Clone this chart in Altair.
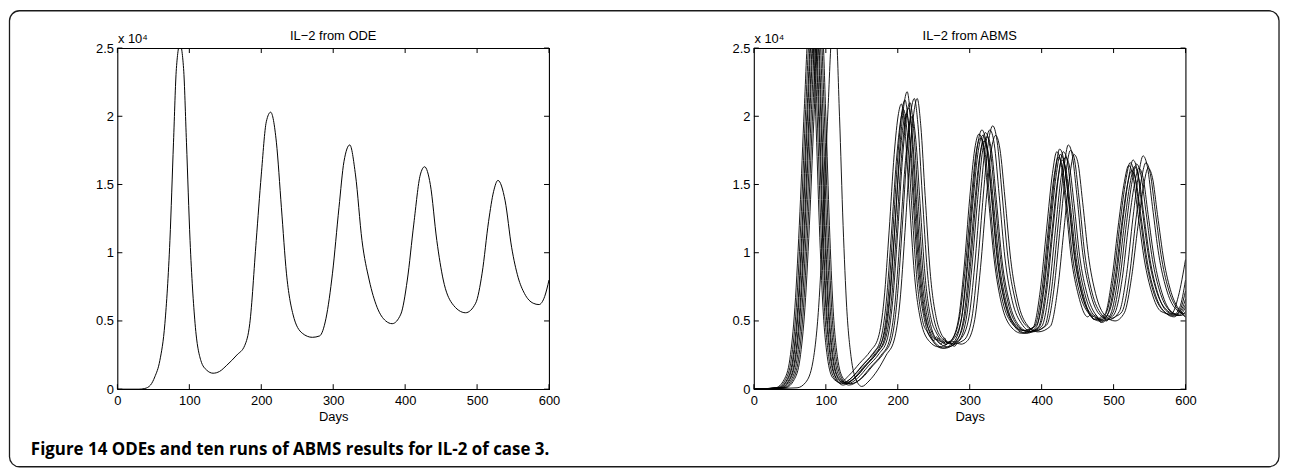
import altair as alt
import pandas as pd

# ---------------- data (IL-2, units of 1e4) ----------------
ode_day = [0, 30, 38, 46, 52, 59, 66, 73, 78, 82, 87, 92, 96, 101, 108, 116, 124, 133, 142,
           152, 166, 177, 184, 193, 200, 207, 213, 221, 228, 235, 244, 257, 271, 281, 290,
           299, 308, 315, 323, 331, 340, 350, 361, 373, 382, 394, 403, 412, 421, 427, 435,
           444, 453, 465, 484, 498, 507, 516, 523, 529, 539, 548, 557, 566, 578, 586, 594, 600]
ode_il2 = [0, 0, 0.005, 0.03, 0.09, 0.21, 0.48, 1.09, 1.81, 2.35, 2.53, 2.35, 1.81, 1.09, 0.48,
           0.21, 0.14, 0.117, 0.13, 0.175, 0.25, 0.32, 0.48, 1.09, 1.57, 1.96, 2.03, 1.81, 1.33,
           0.85, 0.55, 0.41, 0.38, 0.39, 0.52, 0.85, 1.33, 1.67, 1.79, 1.57, 1.09, 0.80, 0.60,
           0.50, 0.48, 0.55, 0.80, 1.21, 1.57, 1.63, 1.50, 1.09, 0.80, 0.63, 0.56, 0.63, 0.85,
           1.23, 1.45, 1.53, 1.38, 1.04, 0.82, 0.70, 0.63, 0.62, 0.68, 0.80]

abms_run01 = [[0,0],[30,0.01],[42,0.07],[50,0.22],[57,0.6],[64,1.3],[70,2.05],[76,2.62],[81,2.62],[86,2.0],[91,1.2],[96,0.6],[102,0.24],[110,0.08],[120,0.05],
              [132,0.1],[147,0.19],[162,0.28],[173,0.38],[181,0.66],[188,1.16],[195,1.72],[201,2.02],[205,2.09],[210,1.9],[216,1.4],[223,0.85],[232,0.5],[244,0.35],[257,0.31],
              [273,0.35],[284,0.5],[292,0.88],[300,1.4],[307,1.76],[313,1.87],[319,1.77],[326,1.4],[334,0.95],[344,0.63],[357,0.46],[372,0.41],
              [388,0.45],[398,0.72],[407,1.18],[415,1.58],[421,1.74],[426,1.68],[433,1.38],[441,0.97],[451,0.69],[464,0.53],[468,0.545],[472,0.515],[478,0.51],[482,0.53],
              [488,0.55],[498,0.82],[507,1.22],[515,1.52],[521,1.64],[527,1.56],[534,1.28],[543,0.94],[553,0.71],[566,0.57],[580,0.55],[590,0.68],[600,0.95]]
abms_run02 = [[0,0],[32,0.01],[44,0.07],[52,0.22],[59,0.6],[66,1.3],[72,2.05],[78,2.62],[83,2.62],[88,2.0],[93,1.2],[98,0.6],[104,0.24],[112,0.08],[122,0.04],
              [135,0.08],[150,0.17],[165,0.26],[176,0.36],[184,0.64],[191,1.13],[198,1.67],[204,1.97],[208,2.05],[213,1.88],[219,1.38],[226,0.84],[235,0.49],
              [241,0.42],[247,0.37],[250,0.355],[253,0.37],[256,0.345],[260,0.33],[263,0.345],[266,0.325],[270,0.34],
              [275,0.36],[286,0.53],[294,0.9],[302,1.38],[309,1.74],[315,1.84],[321,1.75],[328,1.38],[336,0.94],[346,0.64],[359,0.48],[374,0.43],
              [390,0.46],[400,0.71],[409,1.16],[417,1.55],[423,1.7],[428,1.65],[435,1.36],[443,0.97],[453,0.7],[466,0.55],[480,0.5],
              [490,0.56],[500,0.82],[509,1.22],[517,1.53],[523,1.66],[529,1.58],[536,1.3],[545,0.95],[555,0.72],[568,0.58],[582,0.54],[592,0.6],[600,0.8]]
abms_run03 = [[0,0],[34,0.01],[46,0.07],[54,0.22],[61,0.6],[68,1.3],[74,2.05],[80,2.62],[85,2.62],[90,2.0],[95,1.2],[100,0.6],[106,0.24],[114,0.08],[124,0.03],
              [137,0.07],[152,0.16],[167,0.25],[178,0.35],[186,0.63],[193,1.14],[200,1.7],[206,2.04],[210,2.12],[215,1.93],[221,1.42],[228,0.86],[237,0.51],[249,0.35],[262,0.3],
              [277,0.34],[288,0.5],[296,0.9],[304,1.42],[311,1.79],[317,1.9],[323,1.8],[330,1.42],[338,0.96],[348,0.65],[361,0.47],[376,0.41],
              [392,0.45],[402,0.72],[411,1.19],[419,1.59],[425,1.76],[430,1.7],[437,1.4],[445,0.99],[455,0.71],[468,0.54],[473,0.51],[477,0.525],[482,0.49],[487,0.51],
              [492,0.55],[502,0.81],[511,1.2],[519,1.49],[525,1.6],[531,1.53],[538,1.27],[547,0.93],[557,0.71],[570,0.57],[584,0.53],[594,0.6],[600,0.72]]
abms_run04 = [[0,0],[35,0.01],[47,0.07],[55,0.22],[62,0.6],[69,1.3],[75,2.05],[81,2.62],[86,2.62],[91,2.0],[96,1.2],[101,0.6],[107,0.24],[115,0.08],[125,0.05],
              [139,0.1],[154,0.19],[169,0.28],[180,0.38],[188,0.65],[195,1.12],[202,1.65],[208,1.95],[212,2.02],[217,1.85],[223,1.37],[230,0.84],[239,0.5],
              [245,0.42],[251,0.37],[254,0.385],[257,0.355],[261,0.35],[264,0.335],[267,0.355],[271,0.345],
              [278,0.37],[289,0.53],[297,0.9],[305,1.4],[312,1.75],[318,1.86],[324,1.76],[331,1.4],[339,0.95],[349,0.64],[362,0.48],[377,0.43],
              [393,0.47],[403,0.72],[412,1.17],[420,1.56],[426,1.72],[431,1.67],[438,1.37],[446,0.98],[456,0.7],[469,0.55],[483,0.51],
              [494,0.57],[504,0.83],[513,1.24],[521,1.55],[527,1.68],[533,1.6],[540,1.31],[549,0.96],[559,0.73],[572,0.59],[586,0.55],[595,0.59],[600,0.66]]
abms_run05 = [[0,0],[37,0.01],[49,0.07],[57,0.22],[64,0.6],[71,1.3],[77,2.05],[83,2.62],[88,2.62],[93,2.0],[98,1.2],[103,0.6],[109,0.24],[117,0.08],[127,0.04],
              [140,0.08],[155,0.17],[170,0.26],[181,0.36],[189,0.66],[196,1.18],[203,1.78],[209,2.1],[213,2.18],[218,1.97],[224,1.44],[231,0.87],[240,0.5],[252,0.34],[265,0.3],
              [280,0.34],[291,0.5],[299,0.88],[307,1.37],[314,1.71],[320,1.82],[326,1.73],[333,1.37],[341,0.93],[351,0.63],[364,0.46],[379,0.41],
              [395,0.45],[405,0.7],[414,1.14],[422,1.52],[428,1.68],[433,1.63],[440,1.34],[448,0.96],[458,0.69],[471,0.53],[475,0.545],[480,0.5],[485,0.49],[490,0.515],
              [496,0.55],[506,0.81],[515,1.21],[523,1.51],[529,1.63],[535,1.55],[542,1.28],[551,0.94],[561,0.71],[574,0.57],[588,0.54],[600,0.62]]
abms_run06 = [[0,0],[38,0.01],[50,0.07],[58,0.22],[65,0.6],[72,1.3],[78,2.05],[84,2.62],[89,2.62],[94,2.0],[99,1.2],[104,0.6],[110,0.24],[118,0.08],[128,0.05],
              [142,0.09],[157,0.18],[172,0.27],[183,0.37],[191,0.64],[198,1.14],[205,1.69],[211,1.99],[215,2.06],[220,1.88],[226,1.39],[233,0.85],[242,0.5],
              [248,0.41],[254,0.36],[257,0.375],[260,0.345],[264,0.35],[267,0.325],[270,0.345],[275,0.335],
              [282,0.36],[293,0.52],[301,0.9],[309,1.41],[316,1.77],[322,1.88],[328,1.78],[335,1.4],[343,0.95],[353,0.64],[366,0.47],[381,0.42],
              [397,0.46],[407,0.72],[416,1.18],[424,1.58],[430,1.74],[435,1.69],[442,1.38],[450,0.98],[460,0.7],[473,0.54],[487,0.5],
              [499,0.56],[509,0.82],[518,1.22],[526,1.53],[532,1.65],[538,1.57],[545,1.3],[554,0.95],[564,0.72],[577,0.58],[591,0.54],[600,0.6]]
abms_run07 = [[0,0],[40,0.01],[52,0.07],[60,0.22],[67,0.6],[74,1.3],[80,2.05],[86,2.62],[91,2.62],[96,2.0],[101,1.2],[106,0.6],[112,0.24],[120,0.08],[130,0.04],
              [144,0.08],[159,0.17],[174,0.26],[185,0.36],[193,0.65],[200,1.16],[207,1.72],[213,2.03],[217,2.1],[222,1.91],[228,1.41],[235,0.86],[244,0.51],[256,0.35],[269,0.31],
              [284,0.35],[295,0.51],[303,0.89],[311,1.39],[318,1.75],[324,1.85],[330,1.76],[337,1.39],[345,0.94],[355,0.64],[368,0.47],[383,0.42],
              [400,0.46],[410,0.71],[419,1.16],[427,1.55],[433,1.7],[438,1.65],[445,1.36],[453,0.97],[463,0.7],[476,0.54],[481,0.515],[486,0.53],[490,0.5],[495,0.52],
              [502,0.56],[512,0.81],[521,1.21],[529,1.5],[535,1.62],[541,1.55],[548,1.28],[557,0.94],[567,0.71],[580,0.57],[594,0.54],[600,0.57]]
abms_run08 = [[0,0],[42,0.01],[54,0.07],[62,0.22],[69,0.6],[76,1.3],[82,2.05],[88,2.62],[93,2.62],[98,2.0],[103,1.2],[108,0.6],[114,0.24],[122,0.08],[132,0.03],
              [147,0.07],[162,0.16],[177,0.25],[188,0.35],[196,0.62],[203,1.1],[210,1.63],[216,1.93],[220,2.0],[225,1.83],[231,1.36],[238,0.83],[247,0.5],
              [253,0.42],[259,0.37],[262,0.355],[265,0.375],[268,0.345],[272,0.335],[276,0.35],[281,0.345],
              [288,0.37],[299,0.53],[307,0.91],[315,1.42],[322,1.79],[328,1.9],[334,1.8],[341,1.42],[349,0.96],[359,0.65],[372,0.48],[387,0.42],
              [404,0.46],[414,0.74],[423,1.21],[431,1.62],[437,1.79],[442,1.73],[449,1.42],[457,1.0],[467,0.72],[480,0.55],[494,0.51],
              [508,0.57],[518,0.84],[527,1.26],[535,1.58],[541,1.71],[547,1.63],[554,1.34],[563,0.98],[573,0.74],[586,0.59],[600,0.55]]
abms_run09 = [[0,0],[44,0.01],[56,0.07],[64,0.22],[71,0.6],[78,1.3],[84,2.05],[90,2.62],[95,2.62],[100,2.0],[105,1.2],[110,0.6],[116,0.24],[124,0.08],[134,0.04],
              [150,0.08],[165,0.17],[180,0.26],[191,0.36],[199,0.65],[206,1.17],[213,1.74],[219,2.06],[223,2.13],[228,1.94],[234,1.43],[241,0.87],[250,0.52],[262,0.37],[275,0.33],
              [292,0.36],[303,0.52],[311,0.91],[319,1.43],[326,1.81],[332,1.93],[338,1.82],[345,1.43],[353,0.97],[363,0.66],[376,0.48],[391,0.43],
              [407,0.47],[417,0.73],[426,1.2],[434,1.6],[440,1.75],[445,1.7],[452,1.4],[460,0.99],[470,0.71],[483,0.55],[488,0.525],[492,0.54],[497,0.52],[504,0.535],
              [512,0.57],[522,0.83],[531,1.24],[539,1.55],[545,1.66],[551,1.58],[558,1.3],[567,0.95],[577,0.72],[590,0.58],[600,0.53]]
abms_run10 = [[0,0],[60,0.01],[72,0.05],[82,0.2],[90,0.6],[97,1.3],[103,2.05],[109,2.62],[114,2.62],[119,2.0],[124,1.2],[129,0.6],[135,0.24],[142,0.07],[150,0.02],
              [160,0.06],[172,0.14],[184,0.25],[195,0.36],[203,0.64],[210,1.15],[217,1.72],[223,2.05],[227,2.13],[232,1.93],[238,1.42],[245,0.86],[254,0.51],
              [260,0.41],[266,0.36],[269,0.335],[272,0.35],[275,0.325],[279,0.315],[283,0.335],[288,0.33],
              [296,0.35],[307,0.51],[315,0.89],[323,1.39],[330,1.75],[336,1.86],[342,1.76],[349,1.4],[357,0.95],[367,0.64],[380,0.47],[395,0.42],
              [412,0.46],[422,0.72],[431,1.17],[439,1.56],[445,1.72],[450,1.67],[457,1.37],[465,0.98],[475,0.7],[488,0.54],[502,0.5],
              [515,0.56],[525,0.82],[534,1.2],[542,1.5],[548,1.62],[554,1.55],[561,1.28],[570,0.94],[580,0.71],[593,0.57],[600,0.53]]

abms_runs = [abms_run01, abms_run02, abms_run03, abms_run04, abms_run05,
             abms_run06, abms_run07, abms_run08, abms_run09, abms_run10]

x_ticks = [0, 100, 200, 300, 400, 500, 600]
y_ticks = [0, 0.5, 1, 1.5, 2, 2.5]
x_title = "Days"
y_title = "x 10\u2074"
title_left = "IL\u22122 from ODE"
title_right = "IL\u22122 from ABMS"
caption = "Figure 14 ODEs and ten runs of ABMS results for IL-2 of case 3."

# ---------------- build tables ----------------
ode_df = pd.DataFrame({"day": ode_day, "il2": ode_il2})
rows = []
for i, run in enumerate(abms_runs):
    for d, v in run:
        rows.append({"run": f"run{i+1}", "day": d, "il2": v})
abms_df = pd.DataFrame(rows)

W, H = 434, 343
TICK = 5
FONT = "Liberation Sans"

xs = alt.Scale(domain=[0, 600], nice=False, zero=False)
ys = alt.Scale(domain=[0, 2.5], nice=False, zero=False)

x_axis = alt.Axis(values=x_ticks, title=x_title, labelPadding=5, titlePadding=3,
                  labelFlush=False)
y_axis = alt.Axis(values=y_ticks, format="~g", title=y_title, labelPadding=4,
                  titleAngle=0, titleAlign="left", titleBaseline="bottom",
                  titleX=0, titleY=-3)


def tick_layers():
    xt = pd.DataFrame({"day": x_ticks})
    yt = pd.DataFrame({"il2": y_ticks})
    base_x = alt.Chart(xt).mark_rule(color="black", strokeWidth=1)
    base_y = alt.Chart(yt).mark_rule(color="black", strokeWidth=1)
    xb = base_x.encode(x=alt.X("day:Q", scale=xs, axis=x_axis), y=alt.value(H), y2=alt.value(H - TICK))
    xtp = base_x.encode(x=alt.X("day:Q", scale=xs, axis=x_axis), y=alt.value(0), y2=alt.value(TICK))
    yl = base_y.encode(y=alt.Y("il2:Q", scale=ys, axis=y_axis), x=alt.value(0), x2=alt.value(TICK))
    yr = base_y.encode(y=alt.Y("il2:Q", scale=ys, axis=y_axis), x=alt.value(W), x2=alt.value(W - TICK))
    return [xb, xtp, yl, yr]


deco_df = pd.DataFrame({"k": [0]})


def panel_title(text):
    return alt.Chart(deco_df).mark_text(align="center", baseline="alphabetic", font=FONT,
                                        fontSize=13, color="black").encode(
        x=alt.value(W / 2), y=alt.value(-8), text=alt.value(text))


ode_line = alt.Chart(ode_df).mark_line(color="black", strokeWidth=1.0, clip=True,
                                       interpolate="monotone").encode(
    x=alt.X("day:Q", scale=xs, axis=x_axis),
    y=alt.Y("il2:Q", scale=ys, axis=y_axis),
)

abms_lines = alt.Chart(abms_df).mark_line(color="black", strokeWidth=0.9, clip=True,
                                          interpolate="monotone").encode(
    x=alt.X("day:Q", scale=xs, axis=x_axis),
    y=alt.Y("il2:Q", scale=ys, axis=y_axis),
    detail="run:N",
)

border = alt.Chart(deco_df).mark_rect(filled=False, stroke="#1a1a1a", strokeWidth=1.3,
                                      cornerRadius=10).encode(
    x=alt.value(-108.5), x2=alt.value(1168), y=alt.value(-37.5), y2=alt.value(421))
caption_mark = alt.Chart(deco_df).mark_text(align="left", baseline="middle", font="Open Sans",
                                            fontSize=17, fontWeight="bold",
                                            color="black").encode(
    x=alt.value(-87), y=alt.value(404), text=alt.value(caption))

left = alt.layer(ode_line, *tick_layers(), panel_title(title_left), border,
                 caption_mark).properties(width=W, height=H)
right = alt.layer(abms_lines, *tick_layers(), panel_title(title_right)).properties(
    width=W, height=H)

chart = alt.hconcat(left, right, spacing=206, bounds="flush").properties(
    padding=0
).configure_view(stroke="black", strokeWidth=1.1).configure_axis(
    labelFont=FONT, labelFontSize=13, labelColor="black",
    titleFont=FONT, titleFontSize=13, titleFontWeight="normal", titleColor="black",
    domain=False, ticks=False, tickSize=0, grid=False,
)

chart.save("out.html", embed_options={"renderer": "svg", "actions": False})
